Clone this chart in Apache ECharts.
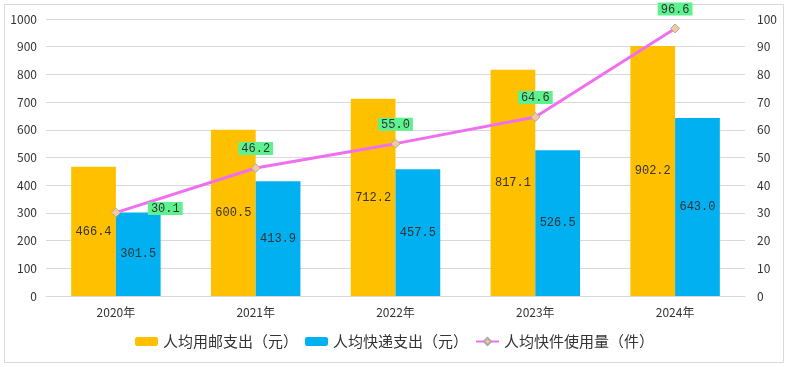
<!DOCTYPE html>
<html><head><meta charset="utf-8">
<script src="https://cdn.jsdelivr.net/npm/echarts@6/dist/echarts.min.js"></script>
<style>html,body{margin:0;padding:0;background:#fff}#c{width:789px;height:367px}</style>
</head><body><div id="c"></div>
<script>
const categories = ['2020年','2021年','2022年','2023年','2024年'];
const postSpend = [466.4, 600.5, 712.2, 817.1, 902.2];
const expressSpend = [301.5, 413.9, 457.5, 526.5, 643.0];
const parcels = [30.1, 46.2, 55.0, 64.6, 96.6];
const seriesNames = ['人均用邮支出（元）','人均快递支出（元）','人均快件使用量（件）'];

const chart = echarts.init(document.getElementById('c'));
const font = '"Noto Sans CJK SC", "Noto Sans", sans-serif';
const mono = '"Liberation Mono", "DejaVu Sans Mono", monospace';
const barLabel = {show:true, position:'inside', color:'#333', fontSize:12, fontFamily:mono,
  formatter:p=>p.value.toFixed(1)};
chart.setOption({
  animation:false,
  textStyle:{fontFamily:font},
  graphic:[{type:'rect', shape:{x:4.5,y:4.5,width:779,height:358}, style:{fill:'none', stroke:'#d9d9d9', lineWidth:1}, z:-1}],
  grid:{left:46, right:44, top:19, bottom:71},
  legend:{bottom:13, left:'center', itemGap:7, itemWidth:23, itemHeight:9,
    textStyle:{fontSize:15, color:'#333', fontFamily:font},
    data:[{name:seriesNames[0]},{name:seriesNames[1]},{name:seriesNames[2], itemStyle:{color:'#F5C89A', borderColor:'#aaa'}}]},
  xAxis:{type:'category', data:categories, axisTick:{show:false},
    axisLine:{lineStyle:{color:'#d9d9d9'}},
    axisLabel:{color:'#333', fontSize:12, margin:10}},
  yAxis:[
    {type:'value', min:0, max:1000, interval:100, axisLabel:{color:'#333', fontSize:12, margin:9, formatter:v=>String(v)},
     splitLine:{lineStyle:{color:'#d9d9d9'}}, axisLine:{show:false}},
    {type:'value', min:0, max:100, interval:10, axisLabel:{color:'#333', fontSize:12, margin:12, formatter:v=>String(v)},
     splitLine:{show:false}, axisLine:{show:false}}
  ],
  series:[
    {name:seriesNames[0], type:'bar', data:postSpend, barGap:'0%', barCategoryGap:'36%',
     itemStyle:{color:'#FFC000'}, label:barLabel},
    {name:seriesNames[1], type:'bar', data:expressSpend, barGap:'0%', barCategoryGap:'36%',
     itemStyle:{color:'#00B0F0'}, label:barLabel},
    {name:seriesNames[2], type:'line', yAxisIndex:1,
     data:parcels.map((v,i)=> i===0 ? {value:v, label:{position:'right', distance:27, offset:[0,-4]}} : v),
     lineStyle:{color:'#F06EF0', width:3}, itemStyle:{color:'#F5C89A', borderColor:'#aaa', borderWidth:1},
     symbol:'diamond', symbolSize:9, z:5,
     label:{show:true, position:'top', distance:8, backgroundColor:'#5EF28F', padding:[1,3,0,3],
       color:'#333', fontSize:12, fontFamily:mono, formatter:p=>p.value.toFixed(1)}}
  ]
});
</script></body></html>
